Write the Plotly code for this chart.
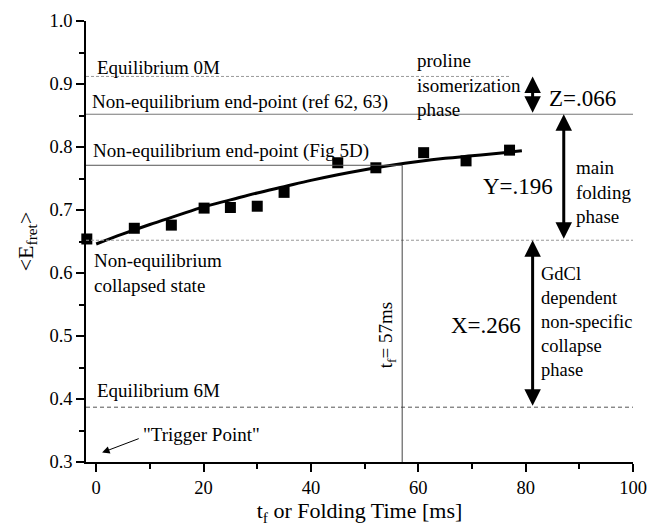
import plotly.graph_objects as go

# ---- data ----
t_data = [-1.75, 7.1, 14.0, 20.1, 25.0, 30.0, 35.0, 45.0, 52.1, 61.0, 68.9, 77.0]
e_data = [0.654, 0.671, 0.676, 0.703, 0.704, 0.706, 0.728, 0.775, 0.767, 0.791, 0.778, 0.795]

t_fit = [0, 5, 10, 15, 20, 25, 30, 35, 40, 45, 50, 55, 60, 65, 70, 75, 79.3]
e_fit = [0.646, 0.662, 0.677, 0.691, 0.705, 0.716, 0.727, 0.737, 0.747, 0.756, 0.764, 0.771, 0.777, 0.782, 0.786, 0.790, 0.794]

eq_0M = 0.912
noneq_ref = 0.852
noneq_5D = 0.771
collapsed = 0.652
eq_6M = 0.387
t_f = 57

z_label, y_label, x_label = "Z=.066", "Y=.196", "X=.266"

FONT = "Liberation Serif, Times New Roman, serif"

fig = go.Figure()

# fit curve
fig.add_trace(go.Scatter(x=t_fit, y=e_fit, mode="lines", line=dict(color="black", width=3, shape="spline"),
                         showlegend=False, hoverinfo="skip"))
# data squares
fig.add_trace(go.Scatter(x=t_data, y=e_data, mode="markers",
                         marker=dict(symbol="square", size=11, color="black"),
                         cliponaxis=False, showlegend=False))

# reference lines
fig.add_shape(type="line", xref="x", yref="y", x0=-1.9, x1=77, y0=eq_0M, y1=eq_0M,
              line=dict(color="#999999", width=1, dash="3px,2px"))
fig.add_shape(type="line", xref="x", yref="y", x0=-1.9, x1=100, y0=noneq_ref, y1=noneq_ref,
              line=dict(color="#777777", width=1))
fig.add_shape(type="line", xref="x", yref="y", x0=-1.9, x1=t_f, y0=noneq_5D, y1=noneq_5D,
              line=dict(color="#555555", width=1))
fig.add_shape(type="line", xref="x", yref="y", x0=-1.9, x1=100, y0=collapsed, y1=collapsed,
              line=dict(color="#999999", width=1, dash="3px,2px"))
fig.add_shape(type="line", xref="x", yref="y", x0=-1.9, x1=100, y0=eq_6M, y1=eq_6M,
              line=dict(color="#555555", width=1, dash="4px,3px"))
fig.add_shape(type="line", xref="x", yref="y", x0=t_f, x1=t_f, y0=0.3, y1=noneq_5D,
              line=dict(color="#444444", width=1))

def dbl_arrow(x, y0, y1):
    fig.add_annotation(x=x, y=y1, ax=x, ay=y0, xref="x", yref="y", axref="x", ayref="y",
                       text="", showarrow=True, arrowhead=2, startarrowhead=2, arrowside="end+start",
                       arrowsize=1.1, startarrowsize=1.1, arrowwidth=3, arrowcolor="black")

dbl_arrow(81.3, noneq_ref, eq_0M)
dbl_arrow(87.1, collapsed, noneq_ref)
dbl_arrow(81.3, eq_6M, collapsed)

# trigger point arrow
fig.add_annotation(x=1.1, y=0.315, ax=8.2, ay=0.338, xref="x", yref="y", axref="x", ayref="y",
                   text="", showarrow=True, arrowhead=2, arrowsize=1.5, arrowwidth=1, arrowcolor="black")

def txt(x, y, s, size=19, xanchor="left", angle=0):
    fig.add_annotation(x=x, y=y, xref="x", yref="y", text=s, showarrow=False,
                       xanchor=xanchor, yanchor="middle", align="left", textangle=angle,
                       font=dict(family=FONT, size=size, color="black"))

txt(-0.3, 0.926, "Equilibrium 0M")
txt(-1.2, 0.871, "Non-equilibrium end-point (ref 62, 63)")
txt(-0.9, 0.793, "Non-equilibrium end-point (Fig 5D)")
txt(-0.7, 0.600, "Non-equilibrium<br>collapsed state")
txt(-0.3, 0.413, "Equilibrium 6M")
txt(8.4, 0.343, "\"Trigger Point\"")
txt(59.4, 0.899, "proline<br>isomerization<br>phase")
txt(83.9, 0.877, z_label, size=23)
txt(85.4, 0.737, y_label, size=23, xanchor="right")
txt(89.1, 0.729, "main<br>folding<br>phase")
txt(79.5, 0.517, x_label, size=23, xanchor="right")
txt(82.4, 0.522, "GdCl<br>dependent<br>non-specific<br>collapse<br>phase", size=18.5)
fig.add_annotation(x=54.2, y=0.5015, xref="x", yref="y", text="t<sub>f</sub>= 57ms", showarrow=False,
                   textangle=-90, font=dict(family=FONT, size=19, color="black"))

axis_common = dict(showline=True, linecolor="black", linewidth=1.5, ticks="outside", ticklen=8,
                   tickwidth=1.5, tickcolor="black", showgrid=False, zeroline=False, automargin=False,
                   tickfont=dict(family=FONT, size=18.5, color="black"))

fig.update_xaxes(range=[-1.9, 100], tickvals=[0, 20, 40, 60, 80, 100],
                 minor=dict(tickvals=[10, 30, 50, 70, 90], ticklen=5, tickwidth=1.5, tickcolor="black", ticks="outside"),
                 title=dict(text="t<sub>f</sub> or Folding Time [ms]", font=dict(family=FONT, size=22, color="black"),
                            standoff=10),
                 **axis_common)
fig.update_yaxes(range=[0.3, 1.0], tickvals=[0.3, 0.4, 0.5, 0.6, 0.7, 0.8, 0.9, 1.0], tickformat=".1f",
                 minor=dict(tickvals=[0.35, 0.45, 0.55, 0.65, 0.75, 0.85, 0.95], ticklen=5, tickwidth=1.5,
                            tickcolor="black", ticks="outside"),
                 title=dict(text="<E<sub>fret</sub>>", font=dict(family=FONT, size=22, color="black"),
                            standoff=10),
                 **axis_common)

fig.update_layout(width=648, height=526, margin=dict(l=86, r=15, t=21, b=64),
                  paper_bgcolor="white", plot_bgcolor="white", showlegend=False,
                  font=dict(family=FONT))

fig.write_html("out.html")
